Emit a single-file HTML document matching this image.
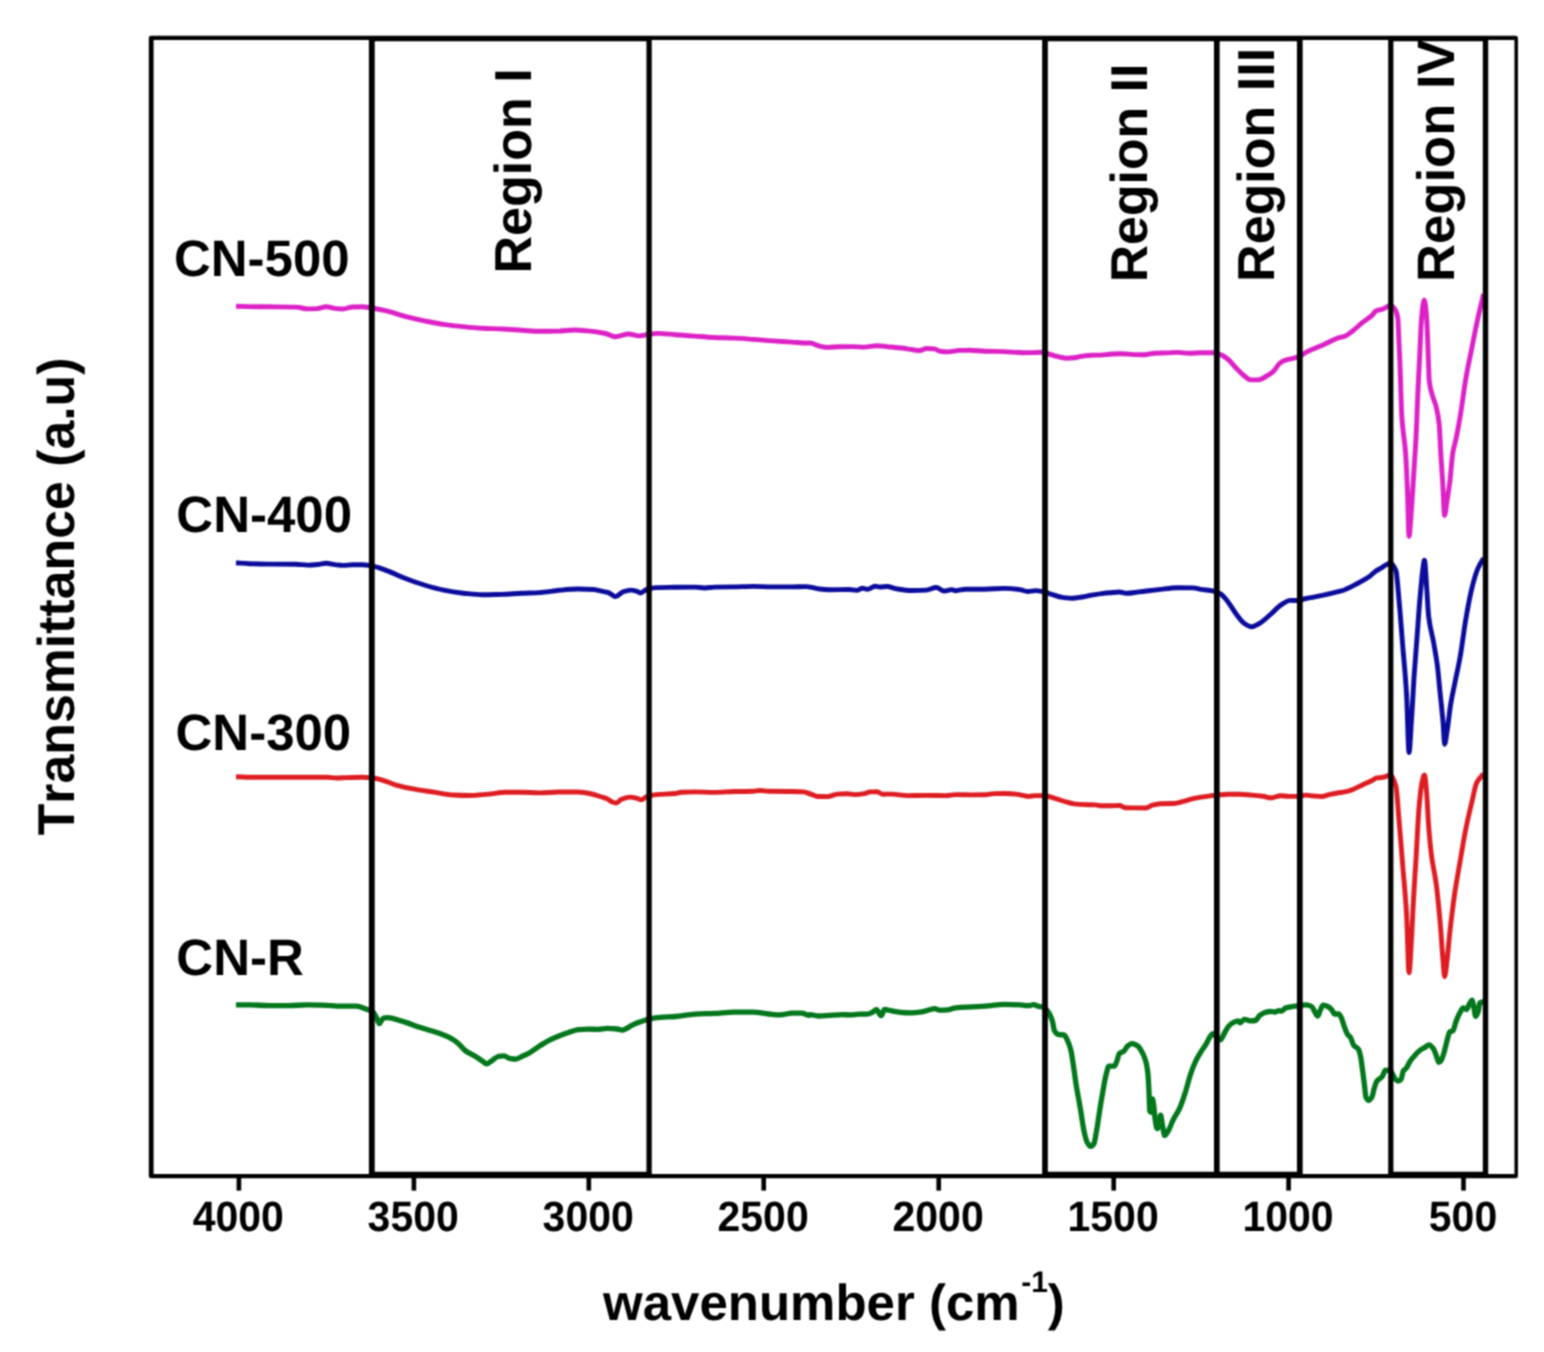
<!DOCTYPE html>
<html lang="en">
<head>
<meta charset="utf-8">
<title>FTIR spectra</title>
<style>
html, body { margin: 0; padding: 0; background: #ffffff; }
body { width: 1544px; height: 1352px; overflow: hidden; }
svg { display: block; }
text { font-family: "Liberation Sans", Arial, Helvetica, sans-serif; font-weight: bold; fill: #000000; font-kerning: none; font-variant-ligatures: none; text-rendering: geometricPrecision; }
</style>
</head>
<body>
<svg width="1544" height="1352" viewBox="0 0 1544 1352">
<defs><filter id="soft" x="0" y="0" width="1544" height="1352" filterUnits="userSpaceOnUse" color-interpolation-filters="sRGB"><feConvolveMatrix order="3" kernelMatrix="1 2 1 2 4 2 1 2 1" divisor="16" edgeMode="duplicate" preserveAlpha="true"/></filter></defs>
<rect x="0" y="0" width="1544" height="1352" fill="#ffffff"/>
<g filter="url(#soft)">
<rect x="0" y="0" width="1544" height="1352" fill="#ffffff"/>
<g fill="none" stroke-linejoin="round" stroke-linecap="butt">
<path d="M236.0,1004.9C240.5,1004.9 245.0,1004.9 249.4,1004.9C255.9,1004.9 262.4,1005.6 268.9,1005.6C275.3,1005.6 281.8,1005.6 288.3,1005.6C294.8,1005.6 301.2,1004.9 307.7,1004.9C314.2,1004.9 320.7,1005.1 327.1,1005.3C330.4,1005.4 333.6,1006.1 336.9,1006.1C343.3,1006.1 349.8,1006.1 356.3,1006.1C359.5,1006.1 362.8,1007.8 366.0,1009.0C368.3,1009.8 370.5,1010.2 372.8,1011.9C374.1,1012.8 375.4,1015.6 376.7,1018.1C377.5,1019.7 378.4,1023.7 379.2,1023.7C380.6,1023.7 382.1,1018.3 383.5,1018.0C384.8,1017.7 386.1,1017.6 387.4,1017.6C391.9,1017.6 396.4,1019.6 401.0,1020.9C407.5,1022.7 413.9,1025.5 420.4,1027.6C426.9,1029.7 433.4,1031.2 439.8,1033.5C443.7,1034.9 447.6,1036.4 451.5,1038.6C453.8,1039.8 456.0,1041.5 458.3,1043.5C460.6,1045.4 462.8,1048.8 465.1,1050.5C468.3,1052.9 471.6,1054.0 474.8,1056.0C477.4,1057.6 480.0,1059.4 482.6,1061.2C483.9,1062.1 485.2,1063.8 486.5,1063.8C488.4,1063.8 490.4,1061.6 492.3,1060.4C494.2,1059.2 496.2,1056.8 498.1,1056.5C500.1,1056.2 502.0,1055.9 504.0,1055.9C505.9,1055.9 507.8,1058.0 509.8,1058.4C511.7,1058.7 513.7,1059.1 515.6,1059.1C518.2,1059.1 520.8,1056.9 523.4,1055.7C525.5,1054.8 527.6,1053.9 529.7,1052.7C533.0,1050.9 536.2,1048.2 539.4,1046.1C542.7,1044.1 545.9,1042.0 549.1,1040.4C552.4,1038.7 555.6,1037.3 558.9,1036.0C562.1,1034.7 565.3,1033.5 568.6,1032.5C571.8,1031.5 575.1,1030.1 578.3,1029.7C581.5,1029.4 584.8,1029.1 588.0,1029.1C591.2,1029.1 594.5,1029.4 597.7,1029.4C601.0,1029.4 604.2,1028.4 607.4,1028.4C610.7,1028.4 613.9,1028.6 617.1,1029.0C618.8,1029.2 620.4,1030.2 622.0,1030.2C623.6,1030.2 625.2,1029.0 626.9,1028.3C628.8,1027.4 630.8,1025.8 632.7,1024.9C635.3,1023.7 637.9,1022.7 640.5,1021.8C643.4,1020.8 646.3,1019.6 649.2,1019.0C652.8,1018.3 656.3,1017.7 659.9,1017.4C665.1,1016.9 670.3,1016.9 675.4,1016.5C681.9,1016.0 688.4,1014.4 694.9,1014.1C701.3,1013.7 707.8,1013.7 714.3,1013.4C720.8,1013.1 727.3,1012.1 733.7,1012.1C740.2,1012.1 746.7,1012.1 753.2,1012.2C758.3,1012.2 763.5,1013.5 768.7,1014.0C772.6,1014.3 776.5,1014.8 780.4,1014.8C784.2,1014.8 788.1,1013.2 792.0,1013.2C795.3,1013.2 798.5,1013.2 801.7,1013.2C804.3,1013.3 806.9,1015.3 809.5,1015.3C809.7,1015.3 809.8,1014.6 810.0,1014.6C812.7,1014.6 815.4,1016.0 818.1,1016.0C820.8,1016.0 823.5,1015.8 826.2,1015.6C831.6,1015.4 837.0,1014.6 842.4,1014.6C845.1,1014.6 847.8,1014.9 850.5,1014.9C853.2,1014.9 855.9,1014.2 858.6,1014.2C861.3,1014.1 864.0,1014.1 866.7,1014.1C868.6,1014.1 870.5,1013.2 872.3,1012.3C873.7,1011.8 875.0,1009.6 876.4,1009.6C878.0,1009.6 879.6,1015.7 881.2,1015.7C882.3,1015.7 883.4,1009.5 884.5,1009.5C886.6,1009.5 888.8,1010.3 891.0,1010.7C894.2,1011.3 897.4,1012.0 900.7,1012.3C903.9,1012.6 907.1,1012.8 910.4,1012.8C914.2,1012.8 917.9,1012.4 921.7,1011.9C924.4,1011.6 927.1,1010.5 929.8,1009.8C931.4,1009.4 933.1,1008.6 934.7,1008.6C936.3,1008.6 937.9,1010.2 939.5,1010.2C942.2,1010.2 944.9,1010.1 947.6,1009.9C950.3,1009.8 953.0,1008.0 955.7,1007.8C961.1,1007.3 966.5,1007.2 971.9,1006.9C977.3,1006.6 982.7,1006.3 988.1,1005.9C993.5,1005.5 998.9,1004.4 1004.3,1004.4C1009.7,1004.4 1015.1,1004.6 1020.5,1004.9C1023.2,1005.0 1025.9,1005.7 1028.6,1005.7C1030.2,1005.7 1031.8,1004.7 1033.5,1004.7C1035.6,1004.7 1037.8,1006.5 1039.9,1006.7C1041.1,1006.9 1042.4,1006.8 1043.6,1007.0C1045.4,1007.3 1047.2,1010.3 1049.0,1013.1C1050.2,1014.9 1051.3,1017.6 1052.4,1021.3C1053.1,1023.5 1053.8,1029.7 1054.5,1030.8C1055.8,1033.1 1057.2,1034.5 1058.6,1034.6C1060.4,1034.8 1062.2,1034.7 1064.0,1034.9C1065.1,1035.0 1066.3,1038.0 1067.4,1040.3C1068.5,1042.6 1069.7,1045.5 1070.8,1049.8C1071.7,1053.3 1072.6,1060.3 1073.5,1066.2C1074.4,1072.0 1075.3,1079.5 1076.2,1085.2C1077.6,1093.8 1079.0,1100.4 1080.3,1108.3C1081.7,1116.3 1083.0,1126.9 1084.4,1132.8C1085.3,1136.7 1086.2,1140.7 1087.1,1142.3C1088.3,1144.4 1089.4,1146.4 1090.5,1146.4C1091.7,1146.4 1092.8,1145.3 1093.9,1143.7C1094.8,1142.4 1095.7,1135.2 1096.7,1130.1C1097.6,1125.0 1098.5,1118.1 1099.4,1112.4C1100.5,1105.3 1101.6,1098.3 1102.8,1092.0C1103.9,1085.7 1105.0,1078.6 1106.2,1074.3C1107.1,1070.9 1108.0,1066.2 1108.9,1066.2C1110.7,1066.2 1112.5,1066.2 1114.3,1066.2C1115.2,1066.2 1116.1,1063.0 1117.0,1060.7C1117.7,1059.0 1118.4,1054.7 1119.1,1053.9C1120.7,1052.2 1122.3,1052.5 1123.8,1051.2C1125.2,1050.1 1126.6,1046.7 1127.9,1045.8C1129.3,1044.8 1130.7,1043.7 1132.0,1043.7C1133.8,1043.7 1135.6,1044.7 1137.5,1045.8C1138.8,1046.6 1140.2,1048.9 1141.5,1051.2C1142.9,1053.5 1144.2,1056.1 1145.6,1060.7C1146.3,1063.0 1147.0,1066.1 1147.7,1071.6C1148.1,1075.3 1148.6,1082.8 1149.0,1092.0C1149.2,1096.6 1149.5,1110.7 1149.7,1111.0C1150.4,1112.1 1151.0,1112.4 1151.7,1112.4C1152.0,1112.4 1152.2,1098.8 1152.4,1098.8C1152.9,1098.8 1153.3,1102.6 1153.8,1105.6C1154.2,1108.6 1154.7,1116.3 1155.1,1119.2C1155.8,1123.6 1156.5,1128.7 1157.2,1128.7C1157.9,1128.7 1158.5,1127.6 1159.2,1126.0C1159.7,1124.9 1160.1,1115.1 1160.6,1115.1C1161.2,1115.1 1161.9,1122.6 1162.6,1126.0C1163.3,1129.4 1164.0,1135.5 1164.7,1135.5C1166.0,1135.5 1167.4,1132.4 1168.7,1130.1C1170.1,1127.8 1171.5,1123.4 1172.8,1120.6C1175.1,1115.9 1177.3,1113.3 1179.6,1108.3C1181.4,1104.4 1183.2,1099.0 1185.0,1093.4C1186.9,1087.8 1188.7,1079.6 1190.5,1074.3C1192.3,1069.0 1194.1,1064.5 1195.9,1060.7C1197.7,1057.0 1199.6,1054.1 1201.4,1051.2C1202.7,1049.1 1204.1,1047.3 1205.4,1045.3C1207.9,1041.6 1210.4,1033.7 1212.9,1033.7C1214.3,1033.7 1215.6,1036.8 1217.0,1037.8C1218.1,1038.6 1219.3,1039.8 1220.4,1039.8C1221.8,1039.8 1223.1,1035.3 1224.5,1033.0C1225.8,1030.8 1227.2,1027.7 1228.6,1026.2C1230.4,1024.3 1232.2,1023.0 1234.0,1022.2C1235.4,1021.5 1236.7,1020.8 1238.1,1020.8C1238.8,1020.8 1239.4,1022.8 1240.1,1022.8C1241.5,1022.8 1242.8,1019.4 1244.2,1019.4C1246.2,1019.4 1248.3,1020.8 1250.3,1020.8C1251.9,1020.8 1253.5,1020.7 1255.1,1020.5C1256.7,1020.4 1258.3,1016.5 1259.8,1015.4C1261.7,1014.0 1263.5,1012.8 1265.3,1012.4C1267.1,1011.9 1268.9,1011.5 1270.7,1011.5C1272.1,1011.5 1273.5,1012.0 1274.8,1012.0C1276.2,1012.0 1277.5,1010.6 1278.9,1010.6C1279.8,1010.6 1280.7,1011.0 1281.6,1011.0C1283.0,1011.0 1284.3,1008.3 1285.7,1007.9C1288.0,1007.1 1290.2,1006.9 1292.5,1006.5C1294.3,1006.2 1296.1,1006.1 1297.9,1005.8C1300.7,1005.5 1303.4,1004.8 1306.1,1004.8C1307.9,1004.8 1309.7,1005.5 1311.5,1006.5C1312.7,1007.2 1313.8,1010.2 1314.9,1012.0C1315.8,1013.4 1316.7,1016.0 1317.7,1016.0C1318.6,1016.0 1319.5,1011.7 1320.4,1009.9C1321.3,1008.1 1322.2,1005.2 1323.1,1005.2C1324.7,1005.2 1326.3,1005.8 1327.8,1006.5C1329.2,1007.1 1330.6,1008.4 1331.9,1009.9C1332.8,1010.9 1333.7,1014.0 1334.7,1014.0C1336.0,1014.0 1337.4,1014.0 1338.7,1014.0C1339.6,1014.0 1340.5,1016.3 1341.5,1018.1C1342.4,1019.9 1343.3,1023.8 1344.2,1026.2C1345.3,1029.3 1346.4,1032.8 1347.6,1034.4C1348.5,1035.7 1349.4,1035.9 1350.3,1037.1C1351.4,1038.7 1352.6,1043.8 1353.7,1045.3C1355.3,1047.3 1356.9,1047.0 1358.5,1049.4C1359.1,1050.4 1359.8,1053.1 1360.5,1056.2C1361.2,1059.2 1361.8,1064.8 1362.5,1069.8C1363.2,1074.7 1363.9,1080.7 1364.6,1086.1C1365.0,1089.7 1365.5,1095.9 1365.9,1097.0C1366.8,1099.1 1367.7,1100.4 1368.7,1100.4C1369.8,1100.4 1370.9,1098.9 1372.0,1097.0C1372.7,1095.8 1373.4,1091.0 1374.1,1088.8C1375.0,1085.8 1375.9,1082.6 1376.8,1081.3C1378.6,1078.8 1380.4,1078.8 1382.2,1076.6C1383.3,1075.2 1384.4,1070.2 1385.5,1070.2C1387.3,1070.2 1389.0,1070.6 1390.7,1071.2C1392.1,1071.7 1393.5,1076.9 1394.9,1078.5C1395.9,1079.6 1396.9,1081.0 1398.0,1081.0C1399.0,1081.0 1400.1,1080.5 1401.1,1079.5C1401.8,1078.8 1402.5,1072.3 1403.2,1071.2C1404.2,1069.5 1405.2,1069.4 1406.3,1068.1C1407.7,1066.3 1409.0,1062.8 1410.4,1060.8C1411.8,1058.8 1413.2,1057.2 1414.6,1055.7C1416.3,1053.7 1418.0,1051.8 1419.7,1050.5C1421.5,1049.2 1423.2,1048.4 1424.9,1047.4C1426.3,1046.5 1427.7,1044.8 1429.1,1044.8C1430.5,1044.8 1431.8,1046.6 1433.2,1048.4C1434.2,1049.7 1435.3,1053.1 1436.3,1055.7C1437.2,1057.8 1438.0,1062.4 1438.9,1062.4C1439.8,1062.4 1440.6,1061.1 1441.5,1059.8C1442.5,1058.3 1443.6,1054.0 1444.6,1050.5C1445.6,1046.9 1446.7,1041.6 1447.7,1038.0C1448.4,1035.7 1449.1,1032.2 1449.8,1031.8C1450.8,1031.2 1451.9,1031.4 1452.9,1030.8C1453.9,1030.2 1455.0,1024.1 1456.0,1021.5C1457.4,1017.9 1458.8,1014.4 1460.2,1012.1C1461.2,1010.4 1462.2,1008.0 1463.3,1008.0C1464.3,1008.0 1465.3,1009.5 1466.4,1009.5C1467.4,1009.5 1468.4,1005.5 1469.5,1003.8C1470.3,1002.5 1471.2,1000.2 1472.1,1000.2C1472.6,1000.2 1473.1,1003.7 1473.6,1005.9C1474.3,1008.8 1475.0,1016.3 1475.7,1016.3C1476.6,1016.3 1477.4,1013.7 1478.3,1011.1C1478.8,1009.5 1479.3,1003.2 1479.8,1002.8C1480.7,1002.1 1481.6,1001.8 1482.4,1001.8C1483.0,1001.8 1483.5,1003.1 1484.0,1003.8" stroke="#03771c" stroke-width="5.3"/>
<path d="M236.0,776.7C240.5,776.8 245.0,777.1 249.4,777.2C255.9,777.2 262.4,777.2 268.9,777.2C281.8,777.2 294.8,777.2 307.7,777.2C314.2,777.2 320.7,777.2 327.1,777.3C330.4,777.4 333.6,778.0 336.9,778.0C340.1,778.0 343.3,777.7 346.6,777.6C351.8,777.5 356.9,777.3 362.1,777.3C365.4,777.3 368.6,777.5 371.8,777.8C375.1,778.1 378.3,778.9 381.6,779.8C386.1,781.0 390.6,783.5 395.2,784.8C401.6,786.6 408.1,788.0 414.6,789.2C421.1,790.4 427.5,791.2 434.0,792.2C440.5,793.1 447.0,794.6 453.4,795.0C458.6,795.3 463.8,795.5 469.0,795.5C475.5,795.5 481.9,794.6 488.4,794.1C494.2,793.6 500.1,792.4 505.9,792.3C511.1,792.3 516.3,792.2 521.5,792.2C527.4,792.2 533.4,792.9 539.4,792.9C545.9,792.9 552.4,792.0 558.9,792.0C565.3,792.0 571.8,792.0 578.3,792.0C582.8,792.1 587.4,793.1 591.9,794.0C595.1,794.7 598.4,796.0 601.6,797.0C603.6,797.6 605.5,798.0 607.4,798.9C609.1,799.6 610.7,801.4 612.3,802.0C613.6,802.5 614.9,803.0 616.2,803.0C617.8,803.0 619.4,800.3 621.0,799.6C624.0,798.4 626.9,797.1 629.8,797.1C632.0,797.1 634.3,797.7 636.6,798.2C638.2,798.5 639.8,799.7 641.4,799.7C643.1,799.7 644.7,797.3 646.3,796.7C649.5,795.6 652.8,794.9 656.0,794.6C662.5,794.0 669.0,794.2 675.4,793.5C677.4,793.3 679.3,792.3 681.3,792.2C685.8,792.0 690.3,791.9 694.9,791.9C701.3,791.9 707.8,792.4 714.3,792.4C720.8,792.4 727.3,791.7 733.7,791.5C740.2,791.4 746.7,791.5 753.2,791.3C755.4,791.2 757.7,790.5 760.0,790.5C762.9,790.5 765.8,791.3 768.7,791.3C775.2,791.4 781.7,791.4 788.1,791.5C793.3,791.6 798.5,791.6 803.7,791.9C806.3,792.1 808.9,793.6 811.5,794.4C813.6,795.1 815.7,796.4 817.8,796.5C821.0,796.5 824.2,796.6 827.5,796.6C830.7,796.6 834.0,794.4 837.2,794.1C840.4,793.9 843.7,793.7 846.9,793.7C849.5,793.7 852.1,794.6 854.7,794.6C857.9,794.6 861.2,794.1 864.4,793.6C866.3,793.3 868.3,792.0 870.2,791.9C872.5,791.9 874.8,791.8 877.0,791.8C879.0,791.8 880.9,794.2 882.9,794.2C885.8,794.2 888.7,794.1 891.6,794.1C896.8,794.1 902.0,795.6 907.1,795.6C913.6,795.6 920.1,795.4 926.6,795.4C933.1,795.4 939.5,795.6 946.0,795.6C949.2,795.6 952.5,794.6 955.7,794.6C960.9,794.6 966.1,794.9 971.3,794.9C975.8,794.9 980.3,794.9 984.9,794.8C988.1,794.7 991.4,793.7 994.6,793.6C997.8,793.5 1001.1,793.5 1004.3,793.5C1008.2,793.5 1012.1,793.7 1016.0,794.1C1018.6,794.3 1021.1,795.1 1023.7,795.6C1025.3,795.9 1027.0,796.4 1028.6,796.4C1030.9,796.4 1033.1,795.6 1035.4,795.6C1038.6,795.6 1041.9,795.6 1045.1,795.7C1048.3,795.8 1051.6,797.4 1054.8,798.3C1058.1,799.3 1061.3,800.6 1064.5,801.5C1067.8,802.4 1071.0,803.5 1074.2,803.9C1078.1,804.3 1082.0,804.5 1085.9,804.6C1089.1,804.8 1092.4,804.8 1095.6,804.9C1097.6,805.0 1099.5,805.8 1101.5,805.8C1104.9,805.8 1108.3,805.8 1111.7,805.7C1114.2,805.7 1116.8,805.5 1119.4,805.5C1121.4,805.5 1123.3,807.6 1125.3,807.7C1128.5,807.8 1131.7,807.9 1135.0,807.9C1138.5,807.9 1142.1,808.0 1145.7,808.0C1147.9,808.0 1150.2,805.8 1152.5,805.2C1155.0,804.5 1157.6,803.8 1160.2,803.7C1164.8,803.6 1169.3,803.6 1173.8,803.5C1177.1,803.4 1180.3,802.1 1183.5,801.3C1186.8,800.5 1190.0,799.4 1193.3,798.7C1197.1,797.9 1201.0,797.3 1204.9,796.7C1208.8,796.1 1212.7,795.5 1216.6,795.1C1220.5,794.8 1224.4,794.2 1228.2,794.2C1232.1,794.2 1236.0,794.2 1239.9,794.2C1243.8,794.2 1247.7,794.8 1251.5,795.1C1255.4,795.4 1259.3,795.8 1263.2,796.3C1265.8,796.6 1268.4,797.8 1271.0,797.8C1274.2,797.8 1277.5,795.7 1280.7,795.7C1283.3,795.7 1285.9,796.4 1288.5,796.4C1291.1,796.4 1293.7,796.4 1296.2,796.4C1299.5,796.4 1302.7,795.1 1306.0,795.1C1308.5,795.1 1311.1,795.8 1313.7,796.0C1316.3,796.2 1318.9,796.5 1321.5,796.5C1324.1,796.5 1326.7,795.3 1329.3,794.7C1331.9,794.1 1334.5,793.4 1337.0,793.0C1339.6,792.5 1342.2,792.4 1344.8,791.9C1347.4,791.4 1350.0,790.5 1352.6,789.6C1355.8,788.4 1359.1,786.5 1362.3,785.0C1365.5,783.5 1368.8,782.1 1372.0,780.5C1373.6,779.7 1375.3,778.1 1376.9,777.9C1378.5,777.7 1380.1,777.7 1381.7,777.5C1382.6,777.4 1383.5,777.2 1384.4,777.0C1386.3,776.6 1388.3,775.0 1390.2,775.0C1392.1,775.0 1394.0,779.5 1396.0,786.5C1396.9,790.1 1397.9,806.3 1398.8,817.3C1400.1,832.0 1401.4,849.4 1402.7,865.4C1404.0,881.4 1405.3,892.0 1406.5,913.5C1407.4,927.4 1408.2,972.7 1409.0,972.7C1409.8,972.7 1410.6,954.6 1411.3,942.3C1412.0,932.1 1412.6,915.6 1413.3,903.9C1414.2,886.3 1415.2,871.8 1416.2,855.8C1417.1,839.7 1418.1,818.7 1419.0,807.7C1420.0,796.8 1421.0,787.0 1421.9,782.7C1422.8,779.0 1423.6,775.0 1424.4,775.0C1425.2,775.0 1426.0,785.5 1426.7,794.2C1427.4,801.5 1428.0,818.7 1428.7,826.9C1429.6,839.3 1430.6,848.4 1431.5,855.8C1433.1,868.0 1434.7,872.5 1436.3,884.6C1437.6,894.3 1438.9,908.4 1440.2,923.1C1441.2,934.2 1442.1,950.9 1443.1,961.5C1443.6,967.2 1444.1,976.5 1444.6,976.5C1445.4,976.5 1446.2,967.6 1446.9,961.5C1447.9,954.0 1448.8,941.3 1449.8,932.7C1451.4,918.3 1453.0,905.3 1454.6,894.2C1456.5,881.0 1458.5,870.8 1460.4,859.6C1462.3,848.4 1464.2,836.4 1466.2,826.9C1468.1,817.5 1470.0,809.9 1471.9,801.9C1473.5,795.3 1475.1,785.9 1476.7,782.7C1479.0,778.1 1481.3,776.8 1483.6,773.8" stroke="#de1d23" stroke-width="4.9"/>
<path d="M236.0,562.8C240.5,563.1 245.0,563.5 249.4,563.7C255.9,563.9 262.4,564.0 268.9,564.1C277.9,564.2 287.0,564.1 296.1,564.2C299.9,564.3 303.8,565.1 307.7,565.1C311.0,565.1 314.2,564.8 317.4,564.5C320.4,564.3 323.3,563.3 326.2,563.3C329.1,563.3 332.0,564.2 334.9,564.6C337.5,564.9 340.1,565.4 342.7,565.4C345.9,565.4 349.2,564.8 352.4,564.8C355.6,564.8 358.9,564.8 362.1,564.8C365.4,564.8 368.6,565.4 371.8,565.9C376.4,566.6 380.9,568.5 385.4,570.1C391.9,572.3 398.4,575.7 404.9,578.2C411.3,580.7 417.8,583.0 424.3,585.0C430.8,587.0 437.3,588.9 443.7,590.2C450.2,591.5 456.7,592.5 463.2,593.2C469.6,593.8 476.1,594.7 482.6,594.7C489.1,594.7 495.5,594.5 502.0,594.4C508.5,594.2 515.0,593.6 521.5,593.3C527.4,593.0 533.4,593.0 539.4,592.6C545.9,592.3 552.4,590.9 558.9,590.3C565.3,589.7 571.8,589.0 578.3,589.0C583.5,589.0 588.6,589.2 593.8,589.5C596.4,589.7 599.0,590.6 601.6,591.2C603.9,591.7 606.1,592.0 608.4,592.7C610.8,593.4 613.2,596.6 615.6,596.6C618.1,596.6 620.5,592.6 623.0,591.8C625.6,590.9 628.2,590.1 630.8,590.1C632.7,590.1 634.6,590.6 636.6,591.1C637.9,591.4 639.2,593.0 640.5,593.0C642.4,593.0 644.4,590.3 646.3,589.6C649.5,588.6 652.8,587.7 656.0,587.6C662.5,587.4 669.0,587.4 675.4,587.3C681.9,587.2 688.4,587.1 694.9,587.1C698.1,587.1 701.4,588.0 704.6,588.0C707.8,588.0 711.1,587.2 714.3,587.1C720.8,587.0 727.3,587.0 733.7,586.9C740.2,586.8 746.7,586.4 753.2,586.4C759.6,586.4 766.1,586.9 772.6,586.9C779.1,586.9 785.5,586.9 792.0,586.9C796.6,586.9 801.1,586.6 805.6,586.6C807.1,586.6 808.5,586.9 810.0,587.1C813.2,587.6 816.5,588.7 819.7,589.0C823.0,589.4 826.2,589.7 829.4,589.7C835.9,589.7 842.4,589.5 848.9,589.5C851.5,589.5 854.0,590.4 856.6,590.4C858.6,590.4 860.5,588.2 862.5,588.2C864.1,588.2 865.7,589.3 867.3,589.3C869.9,589.3 872.5,586.3 875.1,586.3C876.7,586.3 878.3,587.0 880.0,587.0C882.2,587.0 884.5,586.5 886.8,586.5C890.3,586.5 893.9,588.5 897.4,589.0C902.0,589.7 906.5,590.5 911.0,590.5C916.2,590.5 921.4,590.4 926.6,590.1C929.8,589.9 933.1,587.5 936.3,587.5C938.9,587.5 941.5,591.0 944.1,591.0C946.7,591.0 949.2,589.6 951.8,589.6C953.1,589.6 954.4,590.7 955.7,590.7C959.0,590.7 962.2,589.2 965.4,589.2C971.9,589.2 978.4,589.2 984.9,589.2C991.3,589.2 997.8,588.4 1004.3,588.4C1009.5,588.4 1014.7,588.9 1019.8,589.6C1022.4,589.9 1025.0,591.5 1027.6,591.5C1030.2,591.5 1032.8,590.6 1035.4,590.6C1038.0,590.6 1040.6,591.1 1043.2,591.5C1045.8,592.0 1048.3,593.3 1050.9,594.1C1054.8,595.2 1058.7,596.8 1062.6,597.4C1065.8,597.8 1069.1,598.3 1072.3,598.3C1075.5,598.3 1078.8,597.5 1082.0,597.0C1085.3,596.5 1088.5,595.7 1091.7,595.1C1095.0,594.6 1098.2,594.0 1101.5,593.6C1104.2,593.3 1107.0,593.0 1109.7,592.8C1113.0,592.5 1116.2,592.0 1119.4,592.0C1121.7,592.0 1124.0,593.3 1126.2,593.3C1130.4,593.3 1134.6,592.4 1138.9,591.9C1145.3,591.2 1151.8,590.3 1158.3,589.6C1164.8,588.9 1171.2,587.7 1177.7,587.7C1182.9,587.7 1188.1,587.8 1193.3,587.9C1195.9,588.0 1198.4,589.0 1201.0,589.4C1204.9,590.0 1208.8,590.1 1212.7,590.8C1215.3,591.4 1217.9,592.4 1220.5,593.9C1223.1,595.4 1225.7,599.0 1228.2,602.2C1230.8,605.5 1233.4,610.4 1236.0,613.8C1238.6,617.2 1241.2,621.2 1243.8,623.0C1246.4,624.7 1249.0,626.7 1251.5,626.7C1254.1,626.7 1256.7,624.9 1259.3,623.5C1263.2,621.4 1267.1,617.4 1271.0,614.0C1274.2,611.2 1277.5,607.2 1280.7,605.1C1283.9,603.1 1287.2,600.4 1290.4,600.4C1293.0,600.4 1295.6,600.5 1298.2,600.5C1300.8,600.5 1303.4,599.0 1306.0,598.5C1308.5,597.9 1311.1,597.6 1313.7,597.1C1320.2,595.8 1326.7,594.4 1333.2,592.8C1337.0,591.9 1340.9,591.0 1344.8,589.7C1348.7,588.3 1352.6,586.1 1356.5,584.0C1361.0,581.6 1365.5,579.2 1370.1,576.0C1372.0,574.6 1374.0,572.2 1375.9,570.9C1377.9,569.6 1379.8,568.9 1381.7,567.7C1382.6,567.1 1383.5,566.4 1384.4,565.9C1386.3,564.8 1388.3,563.1 1390.2,563.1C1392.1,563.1 1394.0,565.9 1396.0,570.8C1396.9,573.2 1397.9,587.5 1398.8,597.7C1400.1,611.3 1401.4,629.8 1402.7,645.8C1404.0,661.8 1405.3,672.5 1406.5,693.9C1407.4,707.7 1408.2,752.5 1409.0,752.5C1409.8,752.5 1410.6,733.9 1411.3,722.7C1412.3,708.8 1413.3,688.8 1414.2,674.6C1415.2,660.4 1416.2,649.0 1417.1,636.2C1418.1,623.4 1419.0,608.7 1420.0,597.7C1421.0,586.7 1421.9,575.6 1422.9,568.9C1423.4,565.3 1423.9,560.2 1424.4,560.2C1425.2,560.2 1426.0,577.7 1426.7,588.1C1427.4,596.7 1428.0,611.6 1428.7,616.9C1430.3,630.2 1431.9,633.0 1433.5,641.9C1434.7,649.1 1436.0,655.3 1437.3,665.0C1438.3,672.3 1439.2,684.3 1440.2,693.9C1441.2,703.5 1442.1,711.3 1443.1,722.7C1443.6,728.8 1444.1,744.2 1444.6,744.2C1445.4,744.2 1446.2,736.9 1446.9,732.3C1448.2,724.6 1449.5,711.2 1450.8,703.5C1452.1,695.8 1453.3,690.7 1454.6,684.2C1456.5,674.6 1458.5,666.4 1460.4,655.4C1462.3,644.4 1464.2,627.9 1466.2,616.9C1468.1,606.0 1470.0,595.8 1471.9,588.1C1473.8,580.4 1475.8,573.4 1477.7,568.9C1479.7,564.2 1481.6,561.7 1483.6,558.1" stroke="#0c0c9c" stroke-width="4.9"/>
<path d="M236.0,306.3C240.5,306.4 245.0,306.5 249.4,306.6C255.9,306.7 262.4,306.7 268.9,306.8C277.9,306.9 287.0,306.9 296.1,307.1C299.9,307.1 303.8,308.9 307.7,308.9C311.0,308.9 314.2,308.8 317.4,308.6C320.4,308.5 323.3,306.8 326.2,306.8C329.1,306.8 332.0,308.0 334.9,308.4C337.5,308.7 340.1,309.0 342.7,309.0C345.9,309.0 349.2,307.1 352.4,307.0C355.6,306.9 358.9,306.8 362.1,306.8C365.4,306.8 368.6,307.6 371.8,308.0C376.4,308.7 380.9,309.6 385.4,310.7C391.9,312.1 398.4,314.6 404.9,316.3C411.3,317.9 417.8,319.4 424.3,320.8C430.8,322.1 437.3,323.5 443.7,324.4C450.2,325.3 456.7,326.0 463.2,326.6C469.6,327.3 476.1,328.0 482.6,328.3C489.1,328.6 495.5,328.7 502.0,329.0C508.5,329.3 515.0,329.8 521.5,330.2C527.4,330.5 533.4,331.3 539.4,331.3C545.9,331.3 552.4,331.2 558.9,331.1C564.0,331.0 569.2,330.0 574.4,330.0C578.9,330.0 583.5,330.5 588.0,330.9C593.8,331.4 599.7,332.3 605.5,333.5C608.7,334.2 612.0,336.7 615.2,336.7C619.7,336.7 624.3,334.0 628.8,334.0C632.0,334.0 635.3,335.9 638.5,335.9C642.1,335.9 645.6,334.7 649.2,334.3C652.1,333.9 655.0,333.4 658.0,333.4C663.8,333.4 669.6,334.3 675.4,334.7C681.9,335.1 688.4,335.6 694.9,336.1C701.3,336.6 707.8,337.3 714.3,337.5C720.8,337.8 727.3,337.8 733.7,338.1C740.2,338.3 746.7,338.9 753.2,339.4C759.6,339.8 766.1,340.5 772.6,340.9C779.1,341.3 785.5,341.7 792.0,342.1C797.2,342.4 802.4,343.0 807.6,343.0C808.4,343.0 809.2,343.0 810.0,343.0C813.2,343.0 816.5,345.4 819.7,346.1C822.3,346.6 824.9,347.4 827.5,347.4C831.4,347.4 835.3,346.7 839.1,346.7C843.7,346.6 848.2,346.6 852.8,346.6C856.6,346.6 860.5,347.1 864.4,347.1C868.6,347.1 872.8,345.7 877.0,345.7C880.6,345.7 884.2,346.3 887.7,346.7C892.3,347.1 896.8,347.5 901.3,348.0C905.2,348.5 909.1,349.3 913.0,349.8C915.2,350.1 917.5,350.5 919.8,350.5C922.0,350.5 924.3,348.5 926.6,348.5C929.2,348.5 931.8,348.6 934.4,348.9C936.3,349.0 938.2,351.0 940.2,351.3C942.8,351.6 945.4,351.9 948.0,351.9C951.8,351.9 955.7,350.5 959.6,350.4C962.9,350.4 966.1,350.3 969.3,350.3C974.5,350.3 979.7,351.0 984.9,351.2C991.3,351.4 997.8,351.4 1004.3,351.6C1010.8,351.9 1017.3,352.7 1023.7,352.7C1027.0,352.7 1030.2,352.7 1033.5,352.6C1036.0,352.6 1038.6,352.3 1041.2,352.3C1042.5,352.3 1043.8,352.7 1045.1,353.0C1048.3,353.8 1051.6,355.1 1054.8,355.9C1058.7,356.8 1062.6,358.2 1066.5,358.2C1069.1,358.2 1071.7,358.0 1074.2,357.8C1076.8,357.6 1079.4,356.6 1082.0,356.2C1085.3,355.8 1088.5,355.3 1091.7,355.2C1095.0,355.1 1098.2,355.1 1101.5,355.0C1104.2,354.8 1107.0,354.4 1109.7,354.2C1113.6,354.0 1117.5,353.7 1121.4,353.7C1125.3,353.7 1129.1,354.3 1133.0,354.5C1136.9,354.6 1140.8,354.8 1144.7,354.8C1147.9,354.8 1151.2,353.4 1154.4,353.2C1158.3,353.0 1162.2,353.0 1166.1,352.9C1169.9,352.8 1173.8,352.4 1177.7,352.4C1181.6,352.4 1185.5,353.3 1189.4,353.3C1193.3,353.3 1197.2,352.7 1201.0,352.7C1204.9,352.7 1208.8,352.7 1212.7,352.8C1215.3,352.9 1217.9,353.8 1220.5,354.7C1223.1,355.5 1225.7,357.5 1228.2,359.5C1230.8,361.6 1233.4,365.3 1236.0,367.9C1238.6,370.6 1241.2,373.4 1243.8,375.5C1246.0,377.2 1248.3,379.9 1250.6,379.9C1253.5,379.9 1256.4,379.9 1259.3,379.7C1261.9,379.6 1264.5,377.2 1267.1,375.7C1269.0,374.6 1271.0,373.5 1272.9,371.9C1275.5,369.7 1278.1,364.1 1280.7,362.5C1282.6,361.2 1284.6,360.5 1286.5,359.9C1289.1,359.1 1291.7,358.8 1294.3,358.1C1296.2,357.5 1298.2,356.9 1300.1,356.0C1302.1,355.1 1304.0,353.5 1306.0,352.4C1308.5,351.0 1311.1,349.9 1313.7,348.8C1317.0,347.3 1320.2,346.1 1323.5,344.7C1326.7,343.2 1329.9,341.5 1333.2,340.1C1335.1,339.3 1337.0,338.3 1339.0,337.7C1340.9,337.1 1342.9,337.0 1344.8,336.3C1347.4,335.4 1350.0,332.9 1352.6,331.0C1355.8,328.5 1359.1,325.3 1362.3,322.7C1365.5,320.1 1368.8,318.4 1372.0,315.4C1373.3,314.2 1374.6,311.6 1375.9,311.0C1377.9,310.1 1379.8,310.0 1381.7,309.4C1382.6,309.1 1383.5,308.7 1384.4,308.3C1386.3,307.5 1388.3,305.4 1390.2,305.4C1391.8,305.4 1393.4,307.1 1395.0,309.2C1396.0,310.6 1396.9,312.6 1397.9,318.9C1398.2,321.0 1398.5,331.0 1398.8,338.1C1399.4,349.3 1399.9,362.9 1400.4,376.5C1400.8,388.6 1401.3,407.8 1401.7,415.0C1403.0,435.6 1404.3,435.7 1405.6,453.5C1406.2,462.3 1406.9,476.7 1407.5,491.9C1408.0,504.1 1408.5,536.2 1409.0,536.2C1409.8,536.2 1410.6,520.9 1411.3,511.2C1412.2,500.6 1413.0,486.1 1413.8,472.7C1414.6,460.4 1415.4,449.8 1416.2,434.2C1416.7,423.8 1417.2,407.2 1417.7,395.8C1418.3,381.5 1419.0,370.2 1419.6,357.3C1420.3,344.5 1420.9,325.7 1421.5,318.9C1422.4,309.3 1423.3,300.0 1424.2,300.0C1425.1,300.0 1425.9,308.8 1426.7,318.9C1427.2,325.1 1427.8,344.8 1428.3,357.3C1428.6,365.1 1428.9,377.5 1429.2,380.4C1430.3,390.2 1431.4,391.8 1432.5,395.8C1433.8,400.5 1435.1,402.1 1436.3,407.3C1437.3,411.2 1438.3,415.4 1439.2,424.6C1439.7,429.6 1440.3,444.9 1440.8,453.5C1441.4,464.2 1442.0,472.1 1442.7,482.3C1443.3,492.6 1444.0,515.4 1444.6,515.4C1445.4,515.4 1446.2,506.4 1446.9,501.5C1447.9,495.5 1448.8,490.0 1449.8,482.3C1450.8,474.6 1451.7,459.5 1452.7,453.5C1453.8,446.3 1455.0,443.7 1456.2,438.1C1457.6,431.2 1459.0,423.4 1460.4,415.0C1462.3,403.5 1464.2,387.5 1466.2,376.5C1468.1,365.6 1470.0,357.3 1471.9,347.7C1473.8,338.1 1475.8,327.6 1477.7,318.9C1479.7,309.9 1481.6,302.4 1483.6,294.1" stroke="#dc22c6" stroke-width="4.9"/>
</g>
<path fill="#000000" fill-rule="evenodd" d="M151.00,35.80H1515.75Q1517.95,35.80 1517.95,38.00V1176.10Q1517.95,1178.30 1515.75,1178.30H151.00Q148.80,1178.30 148.80,1176.10V38.00Q148.80,35.80 151.00,35.80Z M153.60,40.00V1174.10H1514.45V40.00Z"/>
<g stroke="#000000" fill="none" stroke-linecap="butt">
<line x1="371.8" y1="37.9" x2="371.8" y2="1176.2" stroke-width="5.8"/>
<line x1="649.1" y1="37.9" x2="649.1" y2="1176.2" stroke-width="5.3"/>
<line x1="371.8" y1="39.1" x2="649.1" y2="39.1" stroke-width="4.4"/>
<line x1="371.8" y1="1174.0" x2="649.1" y2="1174.0" stroke-width="4.4"/>
<line x1="1045.0" y1="37.9" x2="1045.0" y2="1176.2" stroke-width="5.7"/>
<line x1="1216.8" y1="37.9" x2="1216.8" y2="1176.2" stroke-width="5.7"/>
<line x1="1045.0" y1="39.1" x2="1216.8" y2="39.1" stroke-width="4.4"/>
<line x1="1045.0" y1="1174.0" x2="1216.8" y2="1174.0" stroke-width="4.4"/>
<line x1="1299.8" y1="37.9" x2="1299.8" y2="1176.2" stroke-width="5.7"/>
<line x1="1216.8" y1="39.1" x2="1299.8" y2="39.1" stroke-width="4.4"/>
<line x1="1216.8" y1="1174.0" x2="1299.8" y2="1174.0" stroke-width="4.4"/>
<line x1="1390.8" y1="37.9" x2="1390.8" y2="1176.2" stroke-width="5.2"/>
<line x1="1485.5" y1="37.9" x2="1485.5" y2="1176.2" stroke-width="5.4"/>
<line x1="1390.8" y1="39.1" x2="1485.5" y2="39.1" stroke-width="4.4"/>
<line x1="1390.8" y1="1174.0" x2="1485.5" y2="1174.0" stroke-width="4.4"/>
<line x1="238.9" y1="1176.2" x2="238.9" y2="1190.6" stroke-width="4.6"/>
<line x1="413.9" y1="1176.2" x2="413.9" y2="1190.6" stroke-width="4.6"/>
<line x1="588.8" y1="1176.2" x2="588.8" y2="1190.6" stroke-width="4.6"/>
<line x1="763.7" y1="1176.2" x2="763.7" y2="1190.6" stroke-width="4.6"/>
<line x1="938.7" y1="1176.2" x2="938.7" y2="1190.6" stroke-width="4.6"/>
<line x1="1113.7" y1="1176.2" x2="1113.7" y2="1190.6" stroke-width="4.6"/>
<line x1="1288.6" y1="1176.2" x2="1288.6" y2="1190.6" stroke-width="4.6"/>
<line x1="1463.5" y1="1176.2" x2="1463.5" y2="1190.6" stroke-width="4.6"/>
</g>
<text transform="translate(238.3,1230.7) scale(1.0,1.035)" font-size="41" text-anchor="middle">4000</text>
<text transform="translate(413.2,1230.7) scale(1.0,1.035)" font-size="41" text-anchor="middle">3500</text>
<text transform="translate(588.2,1230.7) scale(1.0,1.035)" font-size="41" text-anchor="middle">3000</text>
<text transform="translate(763.1,1230.7) scale(1.0,1.035)" font-size="41" text-anchor="middle">2500</text>
<text transform="translate(938.1,1230.7) scale(1.0,1.035)" font-size="41" text-anchor="middle">2000</text>
<text transform="translate(1113.1,1230.7) scale(1.0,1.035)" font-size="41" text-anchor="middle">1500</text>
<text transform="translate(1288.0,1230.7) scale(1.0,1.035)" font-size="41" text-anchor="middle">1000</text>
<text transform="translate(1463.0,1230.7) scale(1.0,1.035)" font-size="41" text-anchor="middle">500</text>
<text transform="translate(173.9,276.1) scale(1.0,1.005)" font-size="51" text-anchor="start">CN-500</text>
<text transform="translate(176.3,532.4) scale(1.0,1.005)" font-size="51" text-anchor="start">CN-400</text>
<text transform="translate(175.5,750.4) scale(1.0,1.005)" font-size="51" text-anchor="start">CN-300</text>
<text transform="translate(176.3,975.2) scale(1.0,1.005)" font-size="51" text-anchor="start">CN-R</text>
<text transform="translate(531.0,273.5) rotate(-90)" font-size="52.0" text-anchor="start">Region I</text>
<text transform="translate(1147.1,282.3) rotate(-90)" font-size="51.8" text-anchor="start">Region II</text>
<text transform="translate(1273.6,281.9) rotate(-90)" font-size="52.0" text-anchor="start">Region III</text>
<text transform="translate(1453.8,281.9) rotate(-90)" font-size="52.6" text-anchor="start">Region IV</text>
<text transform="translate(74.0,596.4) rotate(-90)" font-size="51.8" text-anchor="middle">Transmittance (a.u)</text>
<text transform="translate(603.0,1320.2) scale(1.0,0.995)" font-size="51" text-anchor="start">wavenumber (cm<tspan dx="1.5" dy="-28" font-size="30">-1</tspan><tspan dx="0" dy="28">)</tspan></text>
</g>
</svg>
</body>
</html>
